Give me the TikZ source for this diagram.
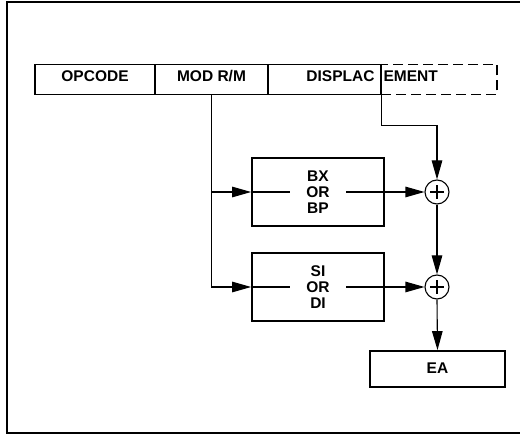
\documentclass[tikz,border=0pt]{standalone}
\usepackage{fontspec}
\newfontfamily\lab{Liberation Sans}
\usetikzlibrary{arrows.meta}
\begin{document}
\begin{tikzpicture}[x=1pt,y=-1pt,
  lbl/.style={inner sep=0pt, text height=11pt, text depth=0pt, font=\lab\bfseries\fontsize{15.5}{16}\selectfont},
  field/.style={draw, line width=1.4pt, minimum height=30pt, inner sep=0pt},
  reg/.style={draw, line width=1.8pt, minimum width=132pt, minimum height=68pt, inner sep=0pt},
  conn/.style={line width=1.1pt},
  arr/.style={conn, -{Triangle[length=19pt,width=10.5pt]}},
  sum/.style={draw, circle, line width=1.1pt, minimum size=24pt, inner sep=0pt,
    path picture={\draw[line width=1.1pt] ([xshift=-7pt]path picture bounding box.center) -- ([xshift=7pt]path picture bounding box.center)
      ([yshift=-7pt]path picture bounding box.center) -- ([yshift=7pt]path picture bounding box.center);}}]
\useasboundingbox (0,0) rectangle (520,435);
% outer frame (open on the right)
\draw[line width=1.6pt] (520,2) -- (7,2) -- (7,433) -- (520,433);
% instruction fields
\node[field, minimum width=120pt] (opc) at (95,79.5) {};
\node[field, minimum width=113pt] (mod) at (211.5,79.5) {};
\node[field, minimum width=113pt] (disp) at (324.5,79.5) {};
\node[field, minimum width=116pt, dash pattern=on 10pt off 5pt] (dext) at (439,79.5) {};
\draw[line width=1.4pt] (disp.north east) -- (disp.south east);
\node[lbl] (opct) at ([yshift=3pt]opc.center) {OPCODE};
\node[lbl] (modt) at ([yshift=3pt]mod.center) {MOD R/M};
\node[lbl, anchor=east] (dt1) at ([xshift=-7pt,yshift=3pt]disp.east) {DISPLAC};
\node[lbl, anchor=west] (dt2) at ([xshift=3pt,yshift=3pt]dext.west) {EMENT};
% registers
\node[reg] (bx) at (318,192) {};
\node[reg] (si) at (318,287) {};
\node[sum] (c1) at (437,192) {};
\node[sum] (c2) at (437,287) {};
\node[field, line width=1.8pt, minimum width=135pt, minimum height=36pt] (ea) at (437.5,369) {};
\node[lbl] (eat) at ([yshift=1pt]ea.center) {EA};
% connectors
\draw[arr] (mod.south) |- (bx.west);
\draw[arr] (mod.south) |- (si.west);
\draw[arr] (disp.south east) -- ++(0,30) -| (c1.north);
\draw[arr] (bx.west) -- (c1.west);
\draw[arr] (si.west) -- (c2.west);
\draw[arr] (c1.south) -- (c2.north);
\draw[arr] (c2.south) -- (ea.north);
% register texts
\node[lbl, fill=white, inner xsep=16pt, inner ysep=1pt] (bxor) at (bx.center) {OR};
\node[lbl] (bxt) at ([yshift=15.7pt]bx.center) {BX};
\node[lbl] (bpt) at ([yshift=-15.7pt]bx.center) {BP};
\node[lbl, fill=white, inner xsep=16pt, inner ysep=1pt] (sior) at (si.center) {OR};
\node[lbl] (sit) at ([yshift=15.7pt]si.center) {SI};
\node[lbl] (dit) at ([yshift=-15.7pt]si.center) {DI};
\end{tikzpicture}
\end{document}
